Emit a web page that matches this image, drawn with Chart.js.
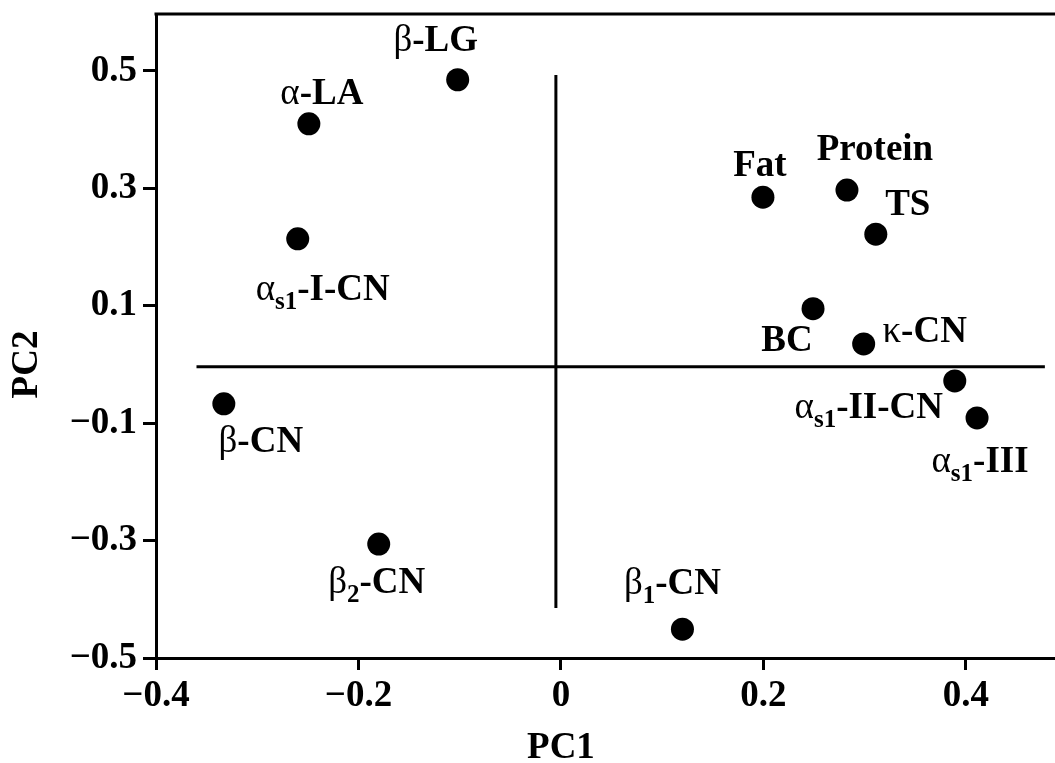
<!DOCTYPE html>
<html>
<head>
<meta charset="utf-8">
<script src="https://cdn.jsdelivr.net/npm/chart.js@4"></script>
<style>
  html, body { margin: 0; padding: 0; background: #fff; }
  #wrap { width: 1055px; height: 763px; }
</style>
</head>
<body>
<div id="wrap"><canvas id="myChart"></canvas></div>
<script>
// loadings; {..} marks a subscript
const names = ['β-LG', 'α-LA', 'α{s1}-I-CN', 'β-CN', 'β{2}-CN', 'β{1}-CN', 'Fat', 'Protein', 'TS', 'BC', 'κ-CN', 'α{s1}-II-CN', 'α{s1}-III'];
const pc1 = [-0.102, -0.249, -0.26, -0.333, -0.18, 0.12, 0.1995, 0.2825, 0.311, 0.249, 0.299, 0.389, 0.411];
const pc2 = [0.485, 0.41, 0.214, -0.067, -0.306, -0.451, 0.285, 0.297, 0.222, 0.095, 0.035, -0.028, -0.091];
const xTicks = [-0.4, -0.2, 0, 0.2, 0.4];
const yTicks = [-0.5, -0.3, -0.1, 0.1, 0.3, 0.5];
// zero reference lines
const hLineX = [-0.36, 0.478];
const hLineY = [-0.004, -0.004];
const vLineX = [-0.005, -0.005];
const vLineY = [0.493, -0.415];

// where each label sits relative to its dot (px, centre of text)
const labelOffsets = [[-22, -41], [13, -32], [25, 49], [37, 36], [-2, 37], [-10, -47], [-3, -33], [28, -42], [32, -31], [-26, 30], [61, -14], [-86, 25], [3, 42]];

const serif = "'Liberation Serif', 'Times New Roman', serif";
const mainFont = 'bold 37px ' + serif;
const greekFont = '37px ' + serif;
const subFont = 'bold 25px ' + serif;

function parseLabel(s) {
  const segs = [];
  const re = /\{(.*?)\}/g;
  let last = 0, m;
  while ((m = re.exec(s)) !== null) {
    if (m.index > last) segs.push({ t: s.slice(last, m.index) });
    segs.push({ t: m[1], sub: true });
    last = re.lastIndex;
  }
  if (last < s.length) segs.push({ t: s.slice(last) });
  // split greek letters so they get a normal weight
  const out = [];
  segs.forEach(sg => {
    if (sg.sub) { out.push(sg); return; }
    let buf = '';
    for (const ch of sg.t) {
      if (/[α-ωΑ-Ω]/.test(ch)) {
        if (buf) out.push({ t: buf });
        buf = '';
        out.push({ t: ch, greek: true });
      } else buf += ch;
    }
    if (buf) out.push({ t: buf });
  });
  return out;
}

function segFont(sg) {
  return sg.sub ? subFont : (sg.greek ? greekFont : mainFont);
}

const labelPlugin = {
  id: 'pointLabels',
  afterDatasetsDraw(chart) {
    const ctx = chart.ctx;
    const meta = chart.getDatasetMeta(2);
    ctx.save();
    ctx.fillStyle = '#000';
    ctx.textBaseline = 'alphabetic';
    ctx.textAlign = 'left';
    meta.data.forEach((pt, i) => {
      const segs = parseLabel(names[i]);
      let w = 0;
      segs.forEach(sg => { ctx.font = segFont(sg); sg.w = ctx.measureText(sg.t).width; w += sg.w; });
      const cx = pt.x + labelOffsets[i][0];
      const cy = pt.y + labelOffsets[i][1];
      let x = cx - w / 2;
      const base = cy + 12;
      segs.forEach(sg => {
        ctx.font = segFont(sg);
        ctx.fillText(sg.t, x, sg.sub ? base + 9 : base);
        x += sg.w;
      });
    });
    ctx.restore();
  }
};

const framePlugin = {
  id: 'frame',
  afterDraw(chart) {
    const ctx = chart.ctx;
    const a = chart.chartArea;
    const xs = chart.scales.x, ys = chart.scales.y;
    ctx.save();
    ctx.strokeStyle = '#000';
    ctx.lineWidth = 3;
    ctx.beginPath();
    ctx.moveTo(a.left - 1.5, a.top);
    ctx.lineTo(a.right, a.top);
    ctx.stroke();
    // axis titles centred on the zero lines
    ctx.fillStyle = '#000';
    ctx.font = 'bold 37px ' + serif;
    ctx.textAlign = 'center';
    ctx.textBaseline = 'middle';
    ctx.fillText('PC1', xs.getPixelForValue(0), 748);
    ctx.translate(27, ys.getPixelForValue(0));
    ctx.rotate(-Math.PI / 2);
    ctx.fillText('PC2', 0, 0);
    ctx.restore();
  }
};

function fmt(v) {
  if (Math.abs(v) < 1e-9) return '0';
  return (v < 0 ? '\u2212' : '') + Math.abs(v).toFixed(1);
}

const ctx = document.getElementById('myChart');
new Chart(ctx, {
  type: 'scatter',
  data: {
    datasets: [
      {
        type: 'line',
        data: hLineX.map((x, i) => ({ x: x, y: hLineY[i] })),
        borderColor: '#000', borderWidth: 3, pointRadius: 0, fill: false
      },
      {
        type: 'line',
        data: vLineX.map((x, i) => ({ x: x, y: vLineY[i] })),
        borderColor: '#000', borderWidth: 3, pointRadius: 0, fill: false
      },
      {
        label: 'loadings',
        data: pc1.map((x, i) => ({ x: x, y: pc2[i] })),
        backgroundColor: '#000', borderWidth: 0, pointRadius: 11.5, pointHoverRadius: 11.5
      }
    ]
  },
  options: {
    responsive: true,
    maintainAspectRatio: false,
    animation: false,
    layout: { autoPadding: false, padding: { top: 14, left: 0, right: 0, bottom: 0 } },
    plugins: { legend: { display: false }, tooltip: { enabled: false } },
    scales: {
      x: {
        type: 'linear', min: -0.4, max: 0.488,
        afterBuildTicks: s => { s.ticks = xTicks.map(v => ({ value: v })); },
        afterFit: s => { s.height = 105; s.paddingLeft = 0; s.paddingRight = 0; },
        border: { display: true, color: '#000', width: 3 },
        grid: { drawOnChartArea: false, drawTicks: true, tickLength: 12, tickWidth: 3, tickColor: '#000' },
        ticks: { color: '#000', padding: 4, maxRotation: 0, font: { family: serif, weight: 'bold', size: 37 }, callback: v => fmt(v) }
      },
      y: {
        type: 'linear', min: -0.5, max: 0.597,
        afterBuildTicks: s => { s.ticks = yTicks.map(v => ({ value: v })); },
        afterFit: s => { s.width = 156; s.paddingTop = 0; s.paddingBottom = 0; },
        border: { display: true, color: '#000', width: 3 },
        grid: { drawOnChartArea: false, drawTicks: true, tickLength: 13, tickWidth: 3, tickColor: '#000' },
        ticks: { color: '#000', padding: 6, font: { family: serif, weight: 'bold', size: 37 }, callback: v => fmt(v) }
      }
    }
  },
  plugins: [labelPlugin, framePlugin]
});
</script>
</body>
</html>
